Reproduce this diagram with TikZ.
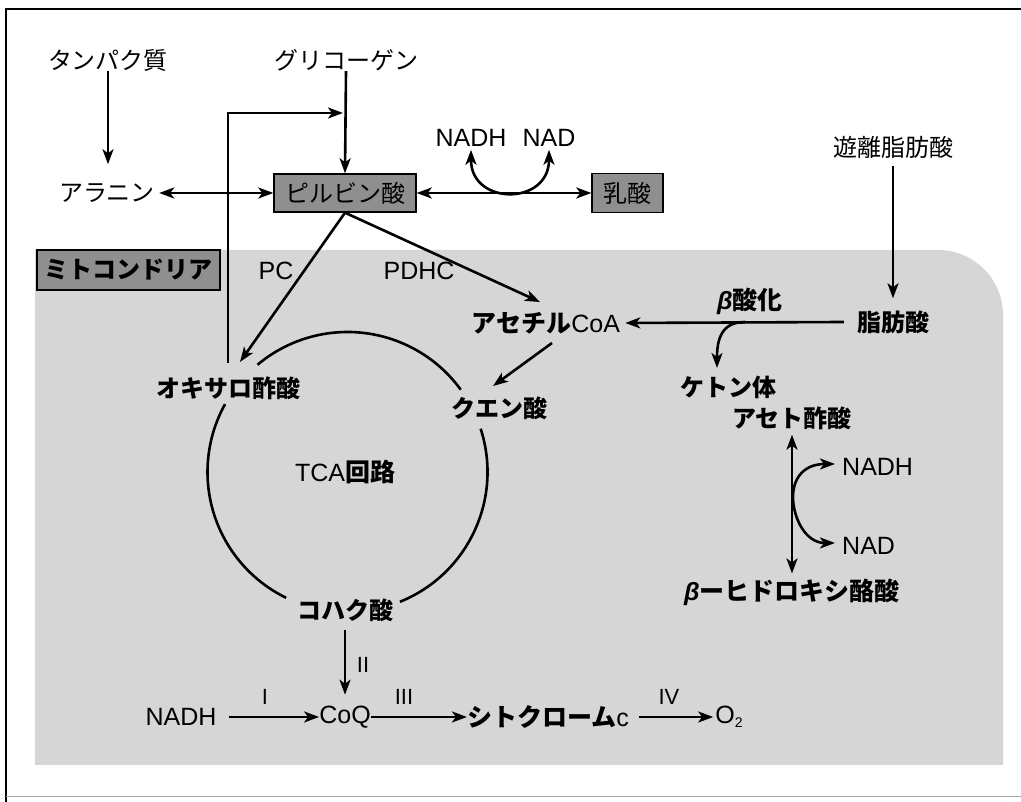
\documentclass[tikz,border=0pt]{standalone}
\usepackage{fontspec}
\setmainfont{Liberation Sans}
\newfontfamily\jp{Noto Sans CJK JP}
\usetikzlibrary{arrows.meta}
\definecolor{mitobg}{gray}{0.84}
\definecolor{boxfill}{gray}{0.56}
\begin{document}
\begin{tikzpicture}[x=1pt,y=1pt,
  tip/.tip={Stealth[length=15pt,width=11pt,inset=4pt]},
  arr/.style={line width=2.6pt,-tip},
  darr/.style={line width=2.6pt,tip-tip},
  ln/.style={line width=2.6pt},
  lab/.style={font=\fontsize{24}{28}\selectfont\jp, inner sep=0pt},
  labb/.style={font=\fontsize{24}{28}\selectfont\jp\bfseries, inner sep=0pt},
  lat/.style={font=\fontsize{25}{28}\selectfont, inner sep=0pt},
  rom/.style={font=\fontsize{22}{24}\selectfont, inner sep=0pt},
  gbox/.style={draw=black, line width=1.4pt, fill=boxfill, inner sep=0pt, font=\fontsize{24}{28}\selectfont\jp},
]
\useasboundingbox (0,0) rectangle (1021,802);
% frame
\draw[line width=1.5pt] (6,0) -- (6,793) -- (1021,793);
\draw[black!35, line width=1pt] (6,5) -- (1021,5);
% mitochondria area
\fill[mitobg] (35,37) -- (35,552) -- (938,552) arc[start angle=90,end angle=0,radius=65pt] -- (1003,37) -- cycle;

% outside nodes
\node[lab] (prot) at (108,742) {タンパク質};
\node[lab] (glyc) at (346,742) {グリコーゲン};
\node[lab] (ala) at (107,609) {アラニン};
\node[gbox, minimum width=142pt, minimum height=38pt] (pyr) at (345,609) {ピルビン酸};
\node[gbox, minimum width=71pt, minimum height=39pt] (lac) at (627.5,609) {乳酸};
\node[lat] (nadh1) at (471,664) {NADH};
\node[lat] (nad1) at (549,664) {NAD};
\node[lab] (ffa) at (893,655) {遊離脂肪酸};

% mitochondria nodes
\node[gbox, font=\fontsize{24}{28}\selectfont\jp\bfseries, minimum width=183pt, minimum height=40pt] (mito) at (128.5,532) {ミトコンドリア};
\node[lat] (pc) at (276,531) {PC};
\node[lat] (pdhc) at (419,531) {PDHC};
\node[lat] (acoa) at (546,479) {{\jp\bfseries アセチル}CoA};
\node[lat] (box) at (750,501) {{\bfseries\itshape β}{\jp\bfseries 酸化}};
\node[labb] (fa) at (893,480) {脂肪酸};
\node[labb] (ket) at (728,415) {ケトン体};
\node[labb] (aca) at (792,384) {アセト酢酸};
\node[lat, anchor=west] (nadh2) at (842,335) {NADH};
\node[lat, anchor=west] (nad2) at (842,256) {NAD};
\node[lat] (bhb) at (792,210) {{\bfseries\itshape β}{\jp\bfseries ーヒドロキシ酪酸}};
\node[labb] (oaa) at (228,414) {オキサロ酢酸};
\node[labb] (cit) at (499,394) {クエン酸};
\node[lat] (tca) at (345,330) {TCA{\jp\bfseries 回路}};
\node[labb] (suc) at (345,192) {コハク酸};
\node[lat] (nadh3) at (181,85) {NADH};
\node[lat] (coq) at (345,85) {CoQ};
\node[lat] (cyt) at (548,85) {{\jp\bfseries シトクローム}c};
\node[lat] (o2) at (729,85) {O\raisebox{-4pt}{\fontsize{14}{14}\selectfont 2}};
\node[rom] (r1) at (265,105) {I};
\node[rom] (r2) at (363,137) {II};
\node[rom] (r3) at (404,105) {III};
\node[rom] (r4) at (669,105) {IV};

% coordinates for free ends
\coordinate (retc) at (343,689);
\coordinate (oaatip) at (240,440);
\coordinate (acoatip) at (540,500);
\coordinate (kb) at (745,480);
\coordinate (kettip) at (717,434);
\coordinate (acs) at (552,459);
\coordinate (cittip) at (493,416);
\coordinate (rmid) at (793,305);
\coordinate (tc) at (347.5,330);

% connectors
\draw[arr] (prot.south) -- ++(0,-93);
\draw[arr] (glyc.south) -- (pyr.north);
\draw[darr] ([xshift=4pt]ala.east) -- (pyr.west);
\draw[darr] (pyr.east) -- (lac.west);
\draw[darr] ([yshift=-3pt]nadh1.south) .. controls +(0,-56) and +(0,-56) .. ([yshift=-3pt]nad1.south);
\draw[arr] ([yshift=13pt]oaa.north) |- (retc);
\draw[arr] (pyr.south) -- (oaatip);
\draw[arr] (pyr.south) -- (acoatip);
\draw[arr] ([yshift=-8pt]ffa.south) -- ([yshift=12pt]fa.north);
\draw[arr] ([xshift=-13pt]fa.west) -- ([xshift=5pt]acoa.east);
\draw[arr] (kb) .. controls (721,480) and (717,462) .. (kettip);
\draw[arr] (acs) -- (cittip);
\draw[darr] ([yshift=-5pt]aca.south) -- ([yshift=5pt]bhb.north);
\draw[darr] ([xshift=-7pt,yshift=3pt]nadh2.west) .. controls +(-30,0) and +(0,20) .. (rmid)
  .. controls +(0,-20) and +(-30,0) .. ([xshift=-7pt,yshift=3pt]nad2.west);
% TCA cycle
\draw[ln] (tc) ++(36:140pt) arc[start angle=36,end angle=130,radius=140pt];
\draw[ln] (tc) ++(-68:140pt) arc[start angle=-68,end angle=18,radius=140pt];
\draw[ln] (tc) ++(151:140pt) arc[start angle=151,end angle=244,radius=140pt];
% electron transport
\draw[arr] ([yshift=-8pt]suc.south) -- ([yshift=11pt]coq.north);
\draw[arr] ([xshift=12pt]nadh3.east) -- (coq.west);
\draw[arr] (coq.east) -- (cyt.west);
\draw[arr] ([xshift=10pt]cyt.east) -- ([xshift=-2pt]o2.west);
\end{tikzpicture}
\end{document}
